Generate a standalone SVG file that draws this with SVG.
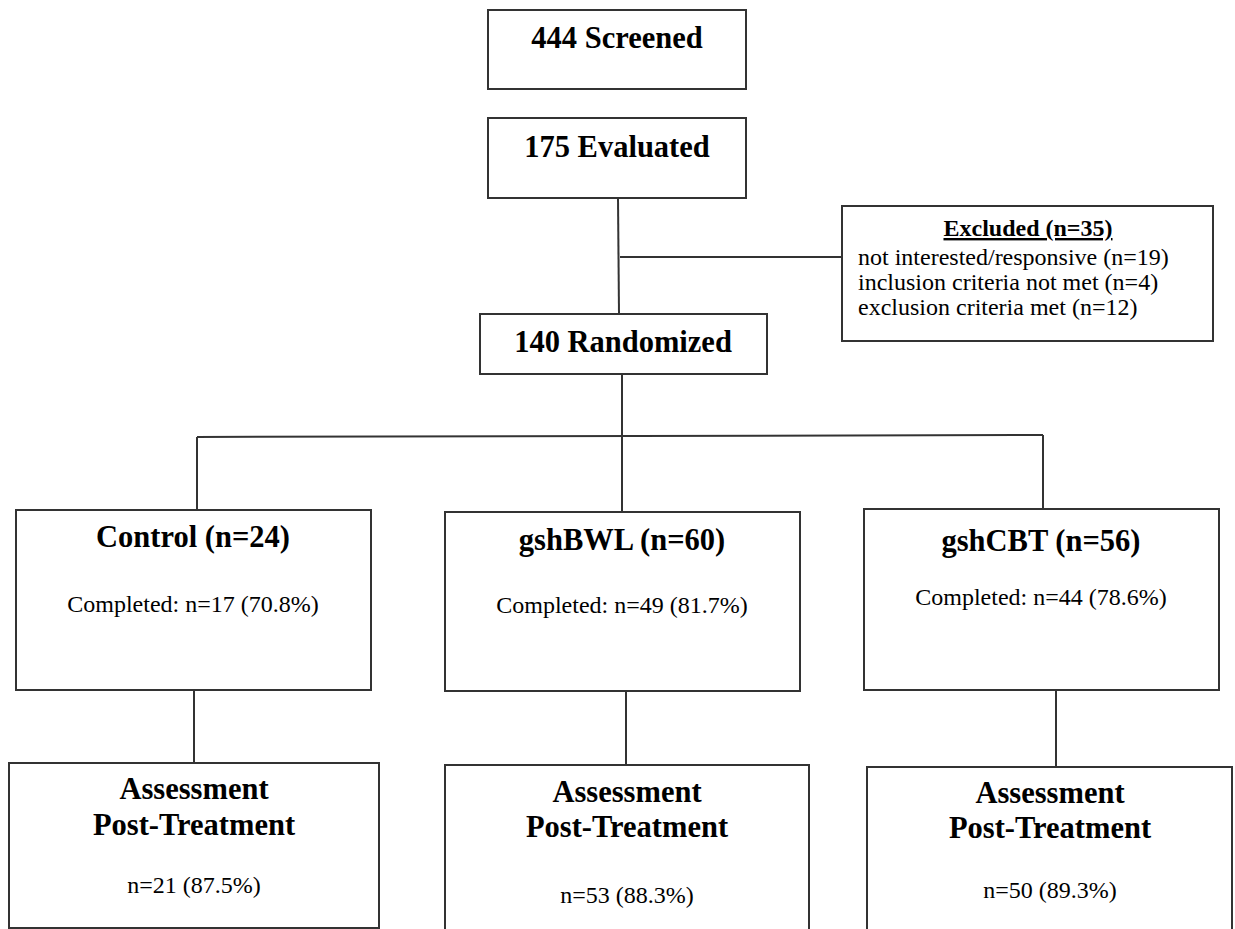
<svg xmlns="http://www.w3.org/2000/svg" width="1235" height="929" viewBox="0 0 1235 929">
<style>
.box{fill:#fff;stroke:#333;stroke-width:2}
.ln{stroke:#333;stroke-width:2;fill:none}
.h{font-family:"Liberation Serif","Times New Roman",serif;font-weight:bold;font-size:30.5px;fill:#000;text-anchor:middle}
.t{font-family:"Liberation Serif","Times New Roman",serif;font-size:24px;fill:#000;text-anchor:middle}
.tl{font-family:"Liberation Serif","Times New Roman",serif;font-size:24px;fill:#000}
.hb{font-family:"Liberation Serif","Times New Roman",serif;font-weight:bold;font-size:24px;fill:#000;text-anchor:middle;text-decoration:underline}
</style>
<rect width="1235" height="929" fill="#fff"/>
<g id="connectors">
<line class="ln" x1="618" y1="198" x2="619" y2="314"/>
<line class="ln" x1="620" y1="257" x2="842" y2="257"/>
<line class="ln" x1="622" y1="374" x2="622" y2="436"/>
<line class="ln" x1="197" y1="437" x2="1043" y2="435"/>
<line class="ln" x1="197" y1="437" x2="197" y2="510"/>
<line class="ln" x1="622" y1="436" x2="622" y2="512"/>
<line class="ln" x1="1043" y1="435" x2="1043" y2="509"/>
<line class="ln" x1="194" y1="690" x2="194" y2="763"/>
<line class="ln" x1="626" y1="691" x2="626" y2="765"/>
<line class="ln" x1="1056" y1="690" x2="1056" y2="767"/>
</g>
<g id="screened">
<rect class="box" x="488" y="10" width="258" height="79"/>
<text class="h" x="617" y="48">444 Screened</text>
</g>
<g id="evaluated">
<rect class="box" x="488" y="118" width="258" height="80"/>
<text class="h" x="617" y="157">175 Evaluated</text>
</g>
<g id="excluded">
<rect class="box" x="842" y="206" width="371" height="135"/>
<text class="hb" x="1028" y="236">Excluded (n=35)</text>
<text class="tl" x="858" y="265">not interested/responsive (n=19)</text>
<text class="tl" x="858" y="290">inclusion criteria not met (n=4)</text>
<text class="tl" x="858" y="315">exclusion criteria met (n=12)</text>
</g>
<g id="randomized">
<rect class="box" x="480" y="314" width="287" height="60"/>
<text class="h" x="623" y="352">140 Randomized</text>
</g>
<g id="control">
<rect class="box" x="16" y="510" width="355" height="180"/>
<text class="h" x="193" y="547">Control (n=24)</text>
<text class="t" x="193" y="612">Completed: n=17 (70.8%)</text>
</g>
<g id="gshbwl">
<rect class="box" x="445" y="512" width="355" height="179"/>
<text class="h" x="622" y="550">gshBWL (n=60)</text>
<text class="t" x="622" y="613">Completed: n=49 (81.7%)</text>
</g>
<g id="gshcbt">
<rect class="box" x="864" y="509" width="355" height="181"/>
<text class="h" x="1041" y="551">gshCBT (n=56)</text>
<text class="t" x="1041" y="605">Completed: n=44 (78.6%)</text>
</g>
<g id="assess-control">
<rect class="box" x="9" y="763" width="370" height="165"/>
<text class="h" x="194" y="799">Assessment</text>
<text class="h" x="194" y="835">Post-Treatment</text>
<text class="t" x="194" y="893">n=21 (87.5%)</text>
</g>
<g id="assess-gshbwl">
<rect class="box" x="445" y="765" width="364" height="180"/>
<text class="h" x="627" y="802">Assessment</text>
<text class="h" x="627" y="837">Post-Treatment</text>
<text class="t" x="627" y="903">n=53 (88.3%)</text>
</g>
<g id="assess-gshcbt">
<rect class="box" x="867" y="767" width="365" height="180"/>
<text class="h" x="1050" y="803">Assessment</text>
<text class="h" x="1050" y="838">Post-Treatment</text>
<text class="t" x="1050" y="898">n=50 (89.3%)</text>
</g>
</svg>
